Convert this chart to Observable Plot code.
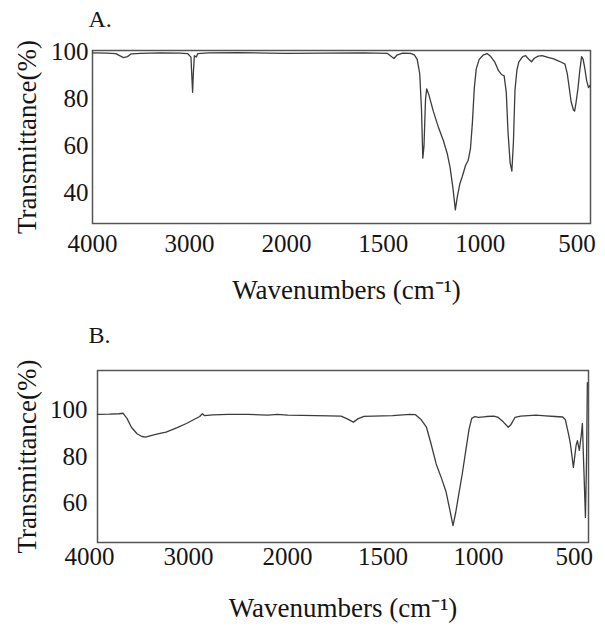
<!DOCTYPE html>
<html>
<head>
<meta charset="utf-8">
<script src="https://cdn.jsdelivr.net/npm/d3@7"></script>
<script src="https://cdn.jsdelivr.net/npm/@observablehq/plot@0.6"></script>
<style>
  body { margin: 0; background: #fff; }
  #wrap { width: 605px; }
  #wrap svg { display: block; }
  #wrap svg text { font-family: "Liberation Serif", "Times New Roman", serif; }
</style>
</head>
<body>
<div id="wrap"></div>
<script>
// ---- data ----
const panelLabels = ["A.", "B."];
const xTitle = "Wavenumbers (cm\u207B\u00B9)";
const yTitle = "Transmittance(%)";
const xTicks = [4000, 3000, 2000, 1500, 1000, 500];
const yTicksA = [40, 60, 80, 100];
const yTicksB = [60, 80, 100];

const wavenumbersA = [4000, 3850, 3760, 3720, 3680, 3640, 3600, 3500, 3300, 3100, 3020, 2985, 2975, 2968, 2960, 2950, 2930, 2915, 2800, 2500, 2200, 2000, 1800, 1600, 1480, 1455, 1445, 1430, 1400, 1360, 1340, 1325, 1312, 1303, 1296, 1290, 1282, 1276, 1265, 1242, 1215, 1190, 1170, 1155, 1140, 1128, 1118, 1105, 1093, 1075, 1062, 1050, 1040, 1030, 1020, 1005, 985, 964, 945, 925, 905, 890, 876, 865, 856, 845, 836, 828, 820, 810, 800, 780, 765, 750, 735, 720, 700, 680, 650, 620, 600, 580, 562, 550, 540, 530, 518, 512, 505, 495, 485, 476, 468, 460, 450, 440, 432];
const transmittanceA = [99.8, 99.7, 99.5, 98.6, 97.8, 98.2, 99.4, 99.6, 99.8, 99.7, 99.5, 98.0, 89.0, 83.0, 91.5, 98.6, 98.0, 99.5, 99.8, 99.9, 99.7, 99.6, 99.7, 99.8, 99.6, 98.0, 97.4, 98.8, 99.7, 99.6, 98.9, 97.0, 91.0, 76.0, 55.0, 60.0, 80.0, 84.5, 82.0, 75.0, 68.0, 62.5, 57.0, 51.0, 42.0, 33.0, 38.5, 44.0, 47.0, 52.0, 54.0, 59.0, 70.0, 85.0, 93.0, 97.0, 98.8, 99.5, 98.2, 96.0, 92.2, 90.6, 90.0, 83.0, 66.0, 53.0, 49.5, 62.0, 84.0, 92.5, 96.0, 98.2, 98.6, 97.2, 96.0, 97.5, 98.4, 98.6, 97.9, 97.2, 96.5, 95.8, 95.0, 91.0, 85.0, 79.0, 75.5, 75.0, 78.5, 84.5, 92.5, 98.2, 97.0, 93.5, 88.0, 85.0, 86.0];

const wavenumbersB = [3920, 3800, 3700, 3660, 3620, 3577, 3520, 3470, 3433, 3380, 3300, 3227, 3120, 3021, 2950, 2887, 2860, 2840, 2753, 2600, 2400, 2200, 2100, 2000, 1850, 1720, 1690, 1655, 1630, 1600, 1450, 1360, 1330, 1300, 1273, 1250, 1222, 1195, 1170, 1150, 1134, 1120, 1103, 1085, 1067, 1050, 1036, 1020, 1000, 960, 920, 897, 870, 845, 830, 810, 780, 700, 650, 600, 560, 546, 530, 520, 504, 490, 483, 473, 462, 457, 452, 441, 435, 431];
const transmittanceB = [98.3, 98.4, 98.6, 98.8, 96.5, 92.8, 90.0, 88.8, 88.5, 89.2, 90.0, 90.7, 92.5, 94.4, 96.0, 97.4, 98.6, 97.8, 98.1, 98.3, 98.3, 98.0, 98.3, 98.0, 97.8, 97.6, 96.5, 95.0, 96.5, 97.5, 97.8, 98.3, 98.2, 96.0, 92.8, 86.0, 77.0, 71.0, 64.9, 57.0, 50.5, 56.0, 64.3, 73.0, 82.8, 92.0, 96.6, 97.4, 97.0, 97.4, 97.6, 97.0, 95.0, 92.8, 94.0, 97.0, 97.6, 98.0, 97.7, 97.4, 97.2, 96.0, 90.0, 85.8, 75.5, 85.0, 87.0, 82.8, 90.0, 94.4, 81.5, 54.0, 80.0, 112.0];

const specA = wavenumbersA.map((w, i) => ({wn: w, t: transmittanceA[i]}));
const specB = wavenumbersB.map((w, i) => ({wn: w, t: transmittanceB[i]}));

const FONT = "Liberation Serif, Times New Roman, serif";
const INK = "#151515";

function panel(cfg) {
  return Plot.plot({
    width: 605,
    height: cfg.height,
    marginLeft: cfg.left,
    marginRight: 605 - cfg.right,
    marginTop: cfg.top,
    marginBottom: cfg.height - cfg.bottom,
    style: {fontFamily: FONT, fontSize: "25px", color: INK, background: "white", overflow: "visible"},
    x: {type: "linear", domain: [4000, 2000, cfg.xEnd], range: cfg.xRange, label: null},
    y: {domain: cfg.yDomain, label: null},
    marks: [
      Plot.frame({stroke: "#555", strokeWidth: 1.5}),
      Plot.axisX({ticks: xTicks, tickSize: 0, tickPadding: cfg.xPad, tickFormat: d3.format("d"), label: null, fontSize: 25, fontFamily: FONT, fill: INK}),
      Plot.axisY({ticks: cfg.yTicks, tickSize: 0, tickPadding: cfg.yPad, tickFormat: d3.format("d"), label: null, fontSize: 25, fontFamily: FONT, fill: INK}),
      Plot.line(cfg.data, {x: "wn", y: "t", stroke: "#3c3c3c", strokeWidth: 1.3, curve: "linear"}),
      Plot.text([cfg.tag], {frameAnchor: "top-left", textAnchor: "start", lineAnchor: "middle", dx: cfg.tagDx, dy: cfg.tagDy, fontSize: 24, fontFamily: FONT, fill: INK}),
      Plot.text([xTitle], {frameAnchor: "bottom", textAnchor: "middle", lineAnchor: "middle", dx: cfg.xtDx, dy: cfg.xtDy, fontSize: 27, fontFamily: FONT, fill: INK}),
      Plot.text([yTitle], {frameAnchor: "left", textAnchor: "middle", lineAnchor: "middle", rotate: -90, dx: cfg.ytDx, fontSize: 27, fontFamily: FONT, fill: INK})
    ]
  });
}

const wrap = document.getElementById("wrap");
wrap.appendChild(panel({
  height: 312, left: 92, right: 590, top: 50, bottom: 223,
  xEnd: 430, xRange: [92, 286, 590], yDomain: [27.2, 100.8], yTicks: yTicksA,
  xPad: 11, yPad: 4, data: specA, tag: panelLabels[0],
  tagDx: -4, tagDy: -30.7, xtDx: 5, xtDy: 66.4, ytDx: -65.6
}));
wrap.appendChild(panel({
  height: 316, left: 97, right: 588, top: 58, bottom: 230,
  xEnd: 425, xRange: [89, 287, 588], yDomain: [43.2, 117.2], yTicks: yTicksB,
  xPad: 5, yPad: 10, data: specB, tag: panelLabels[1],
  tagDx: -9, tagDy: -34.7, xtDx: 0, xtDy: 65.4, ytDx: -70.6
}));
</script>
</body>
</html>
